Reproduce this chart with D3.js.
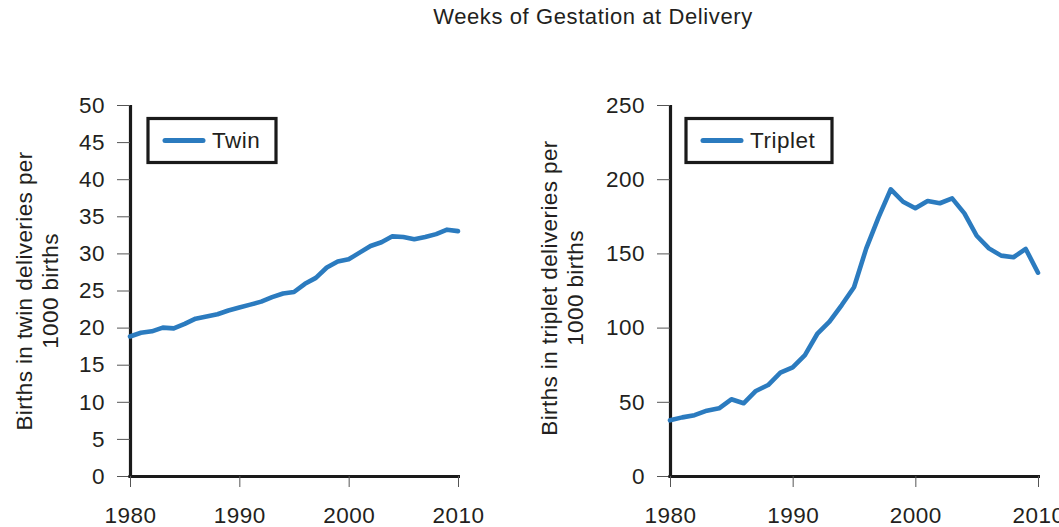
<!DOCTYPE html>
<html>
<head>
<meta charset="utf-8">
<script src="https://cdn.jsdelivr.net/npm/d3@7"></script>
<style>
  html, body { margin: 0; padding: 0; background: #fff; }
  svg { display: block; font-family: "Liberation Sans", Arial, sans-serif; }
</style>
</head>
<body>
<svg id="chart" width="1059" height="527"></svg>
<script>
const years = d3.range(1980, 2011);
const twinValues = [18.8, 19.3, 19.5, 20.0, 19.9, 20.5, 21.2, 21.5, 21.8, 22.3, 22.7, 23.1, 23.5, 24.1, 24.6, 24.8, 25.9, 26.7, 28.1, 28.9, 29.2, 30.1, 31.0, 31.5, 32.3, 32.2, 31.9, 32.2, 32.6, 33.2, 33.0];
const tripletValues = [37.5, 39.5, 41, 44, 45.6, 51.7, 49, 57.3, 61.3, 69.6, 73.2, 81.5, 95.7, 104, 115.2, 127.2, 153.4, 174.3, 193.2, 184.8, 180.4, 185.3, 183.8, 187.1, 177, 161.9, 153.4, 148.5, 147.4, 153, 137];
const xTicks = [1980, 1990, 2000, 2010];
const twinTicks = [0, 5, 10, 15, 20, 25, 30, 35, 40, 45, 50];
const tripletTicks = [0, 50, 100, 150, 200, 250];
const title = "Weeks of Gestation at Delivery";

const svg = d3.select("#chart");
const textColor = "#231f20";
const lineColor = "#2b7bbf";
const fs = 22.5;
const ls = "0.5px";

svg.append("text")
  .attr("x", 593).attr("y", 24)
  .attr("text-anchor", "middle")
  .attr("font-size", 22)
  .attr("letter-spacing", "0.6px")
  .attr("fill", textColor)
  .text(title);

function panel(opts) {
  const x = d3.scaleLinear().domain([1980, 2010]).range([opts.x0, opts.x1]);
  const y = d3.scaleLinear().domain([0, opts.yMax]).range([476, 105]);
  const g = svg.append("g");

  const yAxis = g.append("g")
    .attr("transform", `translate(${opts.x0},0)`)
    .call(d3.axisLeft(y).tickValues(opts.yTicks).tickSize(13).tickSizeOuter(0).tickPadding(12));
  const xAxis = g.append("g")
    .attr("transform", `translate(0,476)`)
    .call(d3.axisBottom(x).tickValues(xTicks).tickFormat(d3.format("d")).tickSize(11).tickSizeOuter(0).tickPadding(20));

  [yAxis, xAxis].forEach(a => {
    a.select(".domain").attr("stroke", "#1a1a1a").attr("stroke-width", 3.2);
    a.selectAll(".tick line").attr("stroke", "#555").attr("stroke-width", 1);
    a.selectAll(".tick text").attr("fill", textColor).attr("font-size", fs)
      .attr("letter-spacing", ls)
      .attr("font-family", "Liberation Sans, Arial, sans-serif");
  });
  xAxis.select(".domain").attr("d", `M${opts.x0 - 1.6},0.5H${opts.x1 + 2}`);
  yAxis.select(".domain").attr("d", `M0.5,105V${476 + 1.6}`);

  const line = d3.line().x((d, i) => x(years[i])).y(d => y(d));
  g.append("path")
    .datum(opts.values)
    .attr("d", line)
    .attr("fill", "none")
    .attr("stroke", lineColor)
    .attr("stroke-width", 4.6)
    .attr("stroke-linejoin", "round")
    .attr("stroke-linecap", "round");

  // y axis title
  const t = g.append("text")
    .attr("transform", `translate(${opts.titleX},${opts.titleY}) rotate(-90)`)
    .attr("text-anchor", "middle")
    .attr("font-size", fs)
    .attr("letter-spacing", "0.4px")
    .attr("fill", textColor);
  t.append("tspan").attr("x", 0).attr("dy", 0).text(opts.yTitle1);
  t.append("tspan").attr("x", 0).attr("dy", 26).text(opts.yTitle2);

  // legend
  const lg = g.append("g");
  lg.append("rect")
    .attr("x", opts.legX).attr("y", 118.5)
    .attr("width", opts.legW).attr("height", 44)
    .attr("fill", "#fff").attr("stroke", "#1a1a1a").attr("stroke-width", 3.2);
  lg.append("line")
    .attr("x1", opts.legX + 17).attr("x2", opts.legX + 55)
    .attr("y1", 140.5).attr("y2", 140.5)
    .attr("stroke", lineColor).attr("stroke-width", 5).attr("stroke-linecap", "round");
  lg.append("text")
    .attr("x", opts.legX + 64).attr("y", 148)
    .attr("font-size", fs).attr("letter-spacing", ls).attr("fill", textColor)
    .text(opts.name);
}

panel({
  x0: 130, x1: 458, yMax: 50, yTicks: twinTicks, values: twinValues,
  yTitle1: "Births in twin deliveries per", yTitle2: "1000 births",
  titleX: 32, titleY: 291, legX: 148, legW: 128, name: "Twin"
});
panel({
  x0: 670, x1: 1038, yMax: 250, yTicks: tripletTicks, values: tripletValues,
  yTitle1: "Births in triplet deliveries per", yTitle2: "1000 births",
  titleX: 557, titleY: 288, legX: 686, legW: 146, name: "Triplet"
});
</script>
</body>
</html>
